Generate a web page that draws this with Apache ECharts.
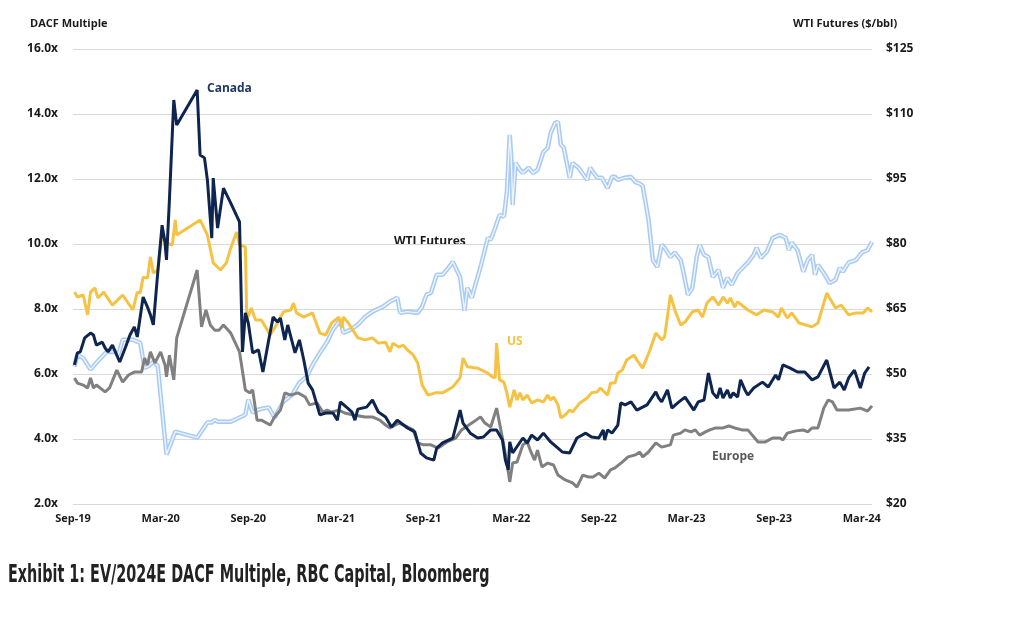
<!DOCTYPE html>
<html>
<head>
<meta charset="utf-8">
<script src="https://cdn.jsdelivr.net/npm/echarts@6/dist/echarts.min.js"></script>
<style>
html,body{margin:0;padding:0;background:#fff;}
#chart{width:1024px;height:617px;}
</style>
</head>
<body>
<div id="chart"></div>
<script>
// x values: months since Sep-2019
const xTickLabels = ['Sep-19','Mar-20','Sep-20','Mar-21','Sep-21','Mar-22','Sep-22','Mar-23','Sep-23','Mar-24'];
const leftTicks = [2,4,6,8,10,12,14,16];
const rightTicks = [20,35,50,65,80,95,110,125];

const canadaT = [0.1,0.3,0.5,0.8,1.2,1.4,1.6,2.0,2.2,2.4,2.7,2.9,3.2,3.6,3.9,4.2,4.4,4.8,5.1,5.3,5.5,5.8,6.1,6.3,6.4,6.6,6.9,7.1,8.5,8.7,9.0,9.2,9.5,9.6,9.9,10.3,10.8,11.4,11.6,11.8,12.0,12.3,12.7,13.0,13.4,13.7,14.0,14.2,14.5,14.7,15.2,15.5,15.8,16.1,16.4,16.9,17.3,17.8,18.1,18.3,18.8,19.1,19.3,19.5,20.1,20.5,20.9,21.4,21.8,22.2,22.9,23.4,23.8,24.2,24.7,24.9,25.3,26.0,26.5,26.7,27.2,27.7,28.1,28.6,29.0,29.4,29.6,29.8,29.9,30.1,30.8,31.1,31.4,31.8,32.2,32.7,33.2,33.5,34.0,34.5,35.1,35.5,36.0,36.3,36.4,36.6,36.9,37.3,37.5,37.8,38.2,38.6,39.0,39.3,39.9,40.1,40.3,40.7,41.0,41.4,41.9,42.5,42.8,43.2,43.5,43.8,44.1,44.3,44.5,44.8,45.0,45.2,45.5,45.7,46.0,46.2,46.6,47.2,47.6,48.1,48.3,48.6,49.1,49.6,50.1,50.6,51.0,51.6,52.1,52.5,52.8,53.1,53.5,53.9,54.2,54.5];
const canadaV = [6.28,6.65,6.68,7.11,7.26,7.20,6.89,6.98,6.80,6.68,6.89,6.68,6.37,6.83,7.20,7.45,7.14,8.37,8.06,7.82,7.51,9.11,10.58,10.03,9.51,11.35,14.43,13.66,14.74,12.74,12.65,11.97,10.18,12.03,10.49,11.72,11.26,10.68,6.68,7.88,7.57,6.65,6.74,6.06,7.05,7.75,7.60,7.72,7.05,7.51,6.65,7.05,6.43,5.72,5.51,4.74,4.80,4.80,4.58,5.14,4.95,4.83,4.58,4.92,4.98,5.20,4.83,4.68,4.37,4.58,4.34,4.22,3.57,3.42,3.35,3.72,3.88,4.03,4.89,4.49,4.18,4.03,4.06,4.28,4.28,3.97,3.35,3.05,3.91,3.57,4.03,3.88,4.12,3.97,4.18,3.91,3.72,3.60,3.57,4.03,4.18,4.06,4.03,4.28,3.97,4.28,4.18,4.43,5.11,5.05,5.14,4.89,4.98,5.05,5.45,5.26,5.14,5.51,4.95,5.11,5.29,4.89,5.14,5.20,6.03,5.42,5.26,5.57,5.26,5.51,5.26,5.42,5.29,5.82,5.51,5.35,5.57,5.75,5.60,5.97,5.82,6.28,6.18,6.06,6.06,5.82,5.91,6.43,5.57,5.75,5.51,5.88,6.12,5.57,6.03,6.22];

const usT = [0.1,0.3,0.7,1.0,1.2,1.5,1.7,2.1,2.7,3.4,4.1,4.4,4.6,4.8,5.1,5.3,5.5,5.8,6.1,6.4,6.8,7.0,7.1,8.7,9.2,9.6,10.1,10.5,10.8,11.2,11.4,11.8,11.9,12.2,12.5,12.9,13.5,14.0,14.4,14.9,15.1,15.3,15.8,16.4,16.9,17.3,17.7,18.2,18.4,18.5,18.8,19.5,20.0,20.5,20.9,21.4,21.7,21.9,22.3,22.6,22.9,23.3,23.6,23.9,24.3,24.8,25.3,26.0,26.5,26.7,27.0,27.7,28.4,28.7,28.9,29.0,29.2,29.5,29.7,29.9,30.2,30.4,30.6,30.8,31.1,31.4,31.8,32.2,32.5,32.7,32.9,33.2,33.4,33.7,34.0,34.2,34.7,35.2,35.5,35.9,36.1,36.6,36.8,37.1,37.3,37.6,37.9,38.4,38.7,39.0,39.5,39.9,40.3,40.5,40.9,41.2,41.6,41.9,42.4,42.8,43.1,43.4,43.8,44.2,44.5,44.8,45.0,45.3,45.5,46.2,46.8,47.3,47.9,48.3,48.5,48.9,49.2,49.7,50.6,51.0,51.6,52.2,52.6,53.1,53.6,54.1,54.4,54.7];
const usV = [8.52,8.37,8.43,7.82,8.52,8.65,8.34,8.52,8.12,8.43,7.97,8.52,8.49,8.98,8.95,9.60,9.11,9.20,10.34,10.03,9.97,10.74,10.28,10.74,10.28,9.42,9.20,9.42,9.88,10.37,9.97,9.91,7.66,8.03,7.66,7.66,7.20,7.57,7.91,7.97,8.18,7.88,7.75,7.88,7.26,7.20,7.57,7.75,7.42,7.75,7.60,7.11,7.05,7.11,6.95,6.98,6.68,6.95,6.83,6.89,6.74,6.58,6.34,5.66,5.35,5.42,5.42,5.60,5.88,6.49,6.22,6.18,6.03,5.91,5.88,6.95,5.82,5.75,5.42,4.98,5.51,5.20,5.42,5.20,5.35,5.11,5.20,5.14,5.35,5.20,5.29,5.05,4.65,4.74,4.89,4.83,5.11,5.26,5.42,5.45,5.57,5.35,5.72,5.72,6.03,6.12,6.43,6.58,6.37,6.18,6.74,7.26,7.05,7.14,8.43,7.97,7.51,7.60,7.91,7.97,7.75,8.18,8.37,8.12,8.37,8.18,8.34,8.06,8.22,7.97,7.82,7.97,7.91,7.75,8.03,7.72,7.88,7.57,7.45,7.57,8.49,8.03,8.12,7.82,7.88,7.88,8.03,7.91];

const europeT = [0.1,0.3,0.7,1.0,1.2,1.4,1.6,2.2,2.5,3.0,3.4,3.8,4.2,4.7,4.9,5.1,5.3,5.6,6.0,6.3,6.4,6.6,6.9,7.1,8.5,8.8,9.1,9.4,9.7,10.0,10.3,10.8,11.4,11.8,12.1,12.3,12.6,12.9,13.5,13.8,14.2,14.5,14.9,15.4,15.9,16.2,16.7,17.1,17.4,17.7,18.2,18.6,19.2,20.0,20.5,21.0,21.4,21.7,22.3,22.9,23.3,23.6,24.0,24.5,25.0,25.6,26.2,26.6,26.8,27.4,27.9,28.2,28.6,29.0,29.4,29.7,29.9,30.1,30.4,30.8,31.1,31.3,31.6,31.8,32.1,32.5,32.9,33.2,33.7,34.2,34.5,34.9,35.3,35.6,36.0,36.4,36.8,37.1,37.6,38.0,38.5,38.8,39.0,39.4,39.9,40.3,40.9,41.1,41.6,41.9,42.3,42.6,42.9,43.3,43.6,44.0,44.5,44.9,45.3,45.8,46.2,46.5,46.9,47.4,47.9,48.4,48.6,48.9,49.5,50.0,50.3,50.6,51.0,51.4,51.7,52.0,52.3,53.1,53.9,54.4,54.7];
const europeV = [5.88,5.72,5.66,5.57,5.88,5.57,5.66,5.45,5.57,6.12,5.75,5.97,6.06,6.06,6.49,6.28,6.68,6.34,6.68,6.28,5.91,6.58,5.82,7.11,9.20,7.45,7.97,7.51,7.35,7.35,7.51,7.26,6.68,5.51,5.42,5.51,4.58,4.58,4.43,4.68,4.89,5.42,5.35,5.42,5.29,5.05,5.11,4.83,4.89,4.83,4.89,4.80,4.74,4.68,4.68,4.58,4.43,4.34,4.49,4.37,4.28,3.88,3.82,3.82,3.72,3.91,4.03,4.28,4.34,4.52,4.68,4.49,4.37,4.95,4.03,3.29,2.68,3.26,3.29,3.82,3.91,3.66,3.35,3.66,3.14,3.26,3.20,2.89,2.74,2.65,2.52,2.89,2.83,2.83,2.95,2.80,3.05,3.11,3.29,3.45,3.51,3.60,3.45,3.60,3.88,3.75,3.82,4.12,4.18,4.28,4.22,4.28,4.12,4.22,4.28,4.34,4.34,4.40,4.34,4.28,4.28,4.12,3.91,3.91,4.03,4.03,3.97,4.18,4.25,4.28,4.22,4.34,4.34,4.95,5.20,5.14,4.89,4.89,4.95,4.86,5.02];

const wtiT = [0.1,0.3,0.7,1.2,1.6,2.3,2.9,3.1,3.4,4.1,4.6,4.9,5.2,5.5,5.8,6.4,7.0,8.5,9.2,9.5,9.7,9.9,10.8,11.8,12.0,12.3,12.7,13.4,13.8,14.4,15.0,15.5,16.0,16.4,16.9,17.4,17.8,18.3,18.5,19.0,19.5,20.0,20.5,21.2,21.7,22.2,22.4,22.9,23.6,23.9,24.2,24.5,24.9,25.3,25.7,26.0,26.5,26.8,27.0,27.3,27.9,28.4,28.6,28.9,29.2,29.5,29.7,29.9,30.0,30.1,30.3,30.6,30.8,31.2,31.5,31.8,32.2,32.5,32.7,33.0,33.2,33.4,33.6,34.0,34.2,34.6,35.2,35.4,35.6,35.9,36.2,36.6,36.9,37.1,37.3,37.8,38.2,38.5,38.8,39.0,39.4,39.7,40.0,40.3,40.5,40.9,41.2,41.6,41.8,42.1,42.4,42.7,42.9,43.2,43.5,43.8,44.2,44.5,44.8,45.1,45.5,45.9,46.2,46.6,46.8,47.1,47.5,47.9,48.4,48.8,49.0,49.2,49.6,50.0,50.3,50.6,50.8,51.0,51.4,51.8,52.2,52.5,52.7,53.1,53.6,54.0,54.4,54.7];
const wtiV = [51.7,54.4,53.7,51.0,52.6,55.1,55.1,54.4,57.9,57.9,57.2,51.4,51.9,52.8,51.9,31.4,36.7,35.3,38.8,38.8,39.4,39.0,39.0,40.6,44.1,41.1,41.8,42.3,39.9,43.6,45.2,48.0,49.4,52.1,54.9,57.4,60.2,62.5,59.5,60.2,61.4,63.2,64.4,65.5,66.7,67.6,64.1,64.4,64.1,65.5,68.3,68.7,72.9,72.9,74.5,75.9,72.4,64.6,69.9,67.6,74.7,81.4,81.0,83.7,86.7,86.3,91.8,105.2,100.1,89.0,98.7,97.1,96.4,97.6,96.4,97.1,101.2,102.2,105.6,107.9,108.2,102.9,102.2,95.3,98.7,97.6,94.8,97.6,96.6,95.3,95.3,92.9,95.5,95.5,94.8,95.3,95.5,94.3,93.9,93.4,85.6,76.3,74.7,79.8,79.1,77.0,78.0,76.3,73.3,68.3,69.9,77.0,79.8,77.5,77.0,72.4,74.0,69.9,72.2,70.6,73.3,74.7,75.7,77.5,79.1,76.8,78.2,81.4,82.1,81.4,78.6,80.3,78.6,73.6,76.3,77.5,72.9,75.2,73.3,71.0,71.7,74.5,73.6,75.7,76.3,78.0,78.6,80.5];

function zip(t, v) { return t.map((x, i) => [x, v[i]]); }

const chart = echarts.init(document.getElementById('chart'), null, {renderer: 'canvas'});
const lblFont = {fontFamily: '"Open Sans", sans-serif', fontWeight: 'bold', color: '#1a1a1a'};

chart.setOption({
  animation: false,
  backgroundColor: '#ffffff',
  grid: {left: 73, right: 152, top: 49, bottom: 113, containLabel: false},
  xAxis: {
    type: 'value', min: 0, max: 54.7, interval: 6,
    axisLine: {show: false}, axisTick: {show: false}, splitLine: {show: false},
    axisLabel: Object.assign({}, lblFont, {
      fontSize: 11, margin: 9, showMaxLabel: false,
      formatter: v => (Math.abs(v % 6) < 1e-6 && v / 6 < xTickLabels.length) ? xTickLabels[Math.round(v / 6)] : ''
    })
  },
  yAxis: [
    {
      type: 'value', min: 2, max: 16, interval: 2, position: 'left',
      axisLine: {show: false}, axisTick: {show: false},
      splitLine: {show: true, lineStyle: {color: '#d9d9d9', width: 1}},
      axisLabel: Object.assign({}, lblFont, {fontSize: 12, margin: 15, formatter: v => v.toFixed(1) + 'x'})
    },
    {
      type: 'value', min: 20, max: 125, position: 'right',
      axisLine: {show: false}, axisTick: {show: false}, splitLine: {show: false},
      axisLabel: Object.assign({}, lblFont, {fontSize: 12, margin: 14, customValues: rightTicks, formatter: v => '$' + v})
    }
  ],
  series: [
    {name: 'WTI Futures', type: 'line', yAxisIndex: 1, data: zip(wtiT, wtiV), showSymbol: false,
      lineStyle: {color: '#a9cbf3', width: 4.5}, z: 1},
    {name: 'WTI inner', type: 'line', yAxisIndex: 1, data: zip(wtiT, wtiV), showSymbol: false,
      lineStyle: {color: '#eef5fe', width: 1.4}, z: 2},
    {name: 'Europe', type: 'line', data: zip(europeT, europeV), showSymbol: false,
      lineStyle: {color: '#808080', width: 3}, z: 3},
    {name: 'US', type: 'line', data: zip(usT, usV), showSymbol: false,
      lineStyle: {color: '#f6c244', width: 3}, z: 4},
    {name: 'Canada', type: 'line', data: zip(canadaT, canadaV), showSymbol: false,
      lineStyle: {color: '#0e2550', width: 3}, z: 5}
  ],
  graphic: [
    {type: 'text', left: 30, top: 18, style: {text: 'DACF Multiple', font: 'bold 11px "Open Sans", sans-serif', fill: '#1a1a1a'}},
    {type: 'text', left: 793, top: 18, style: {text: 'WTI Futures ($/bbl)', font: 'bold 11px "Open Sans", sans-serif', fill: '#1a1a1a'}},
    {type: 'text', left: 207, top: 83, style: {text: 'Canada', font: 'bold 12px "Open Sans", sans-serif', fill: '#203864'}},
    {type: 'text', left: 394, top: 236, style: {text: 'WTI Futures', font: 'bold 12px "Open Sans", sans-serif', fill: '#1a1a1a'}},
    {type: 'text', left: 507, top: 336, style: {text: 'US', font: 'bold 12px "Open Sans", sans-serif', fill: '#f6c244'}},
    {type: 'text', left: 712, top: 451, style: {text: 'Europe', font: 'bold 12px "Open Sans", sans-serif', fill: '#595959'}},
    {type: 'text', x: 8, y: 564, scaleX: 0.666, style: {text: 'Exhibit 1: EV/2024E DACF Multiple, RBC Capital, Bloomberg', font: 'bold 24px "Liberation Sans Narrow", "DejaVu Sans Condensed", sans-serif', fill: '#222222'}}
  ]
});
</script>
</body>
</html>
